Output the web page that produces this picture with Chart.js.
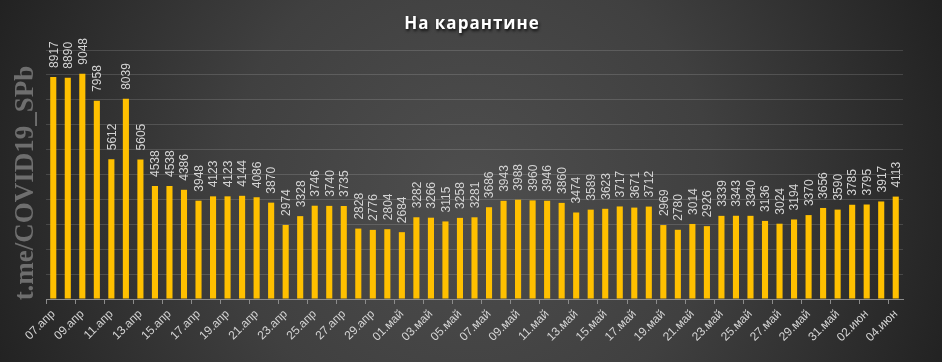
<!DOCTYPE html>
<html>
<head>
<meta charset="utf-8">
<script src="https://cdn.jsdelivr.net/npm/chart.js@4"></script>
<style>
  html, body { margin: 0; padding: 0; background: #2a2a2a; }
  #wrap { width: 942px; height: 362px; }
</style>
</head>
<body>
<div id="wrap"><canvas id="quarantineChart" width="942" height="362"></canvas></div>
<script>
const dates = [
    '07.апр', '08.апр', '09.апр', '10.апр', '11.апр', '12.апр', '13.апр', '14.апр', '15.апр', '16.апр',
    '17.апр', '18.апр', '19.апр', '20.апр', '21.апр', '22.апр', '23.апр', '24.апр', '25.апр', '26.апр',
    '27.апр', '28.апр', '29.апр', '30.апр', '01.май', '02.май', '03.май', '04.май', '05.май', '06.май',
    '07.май', '08.май', '09.май', '10.май', '11.май', '12.май', '13.май', '14.май', '15.май', '16.май',
    '17.май', '18.май', '19.май', '20.май', '21.май', '22.май', '23.май', '24.май', '25.май', '26.май',
    '27.май', '28.май', '29.май', '30.май', '31.май', '01.июн', '02.июн', '03.июн', '04.июн'
];
const quarantined = [
    8917, 8890, 9048, 7958, 5612, 8039, 5605, 4538, 4538, 4386,
    3948, 4123, 4123, 4144, 4086, 3870, 2974, 3328, 3746, 3740,
    3735, 2828, 2776, 2804, 2684, 3282, 3266, 3115, 3258, 3281,
    3686, 3943, 3988, 3960, 3946, 3860, 3474, 3589, 3623, 3717,
    3671, 3712, 2969, 2780, 3014, 2926, 3339, 3343, 3340, 3136,
    3024, 3194, 3370, 3656, 3590, 3785, 3795, 3917, 4113
];
const chartTitle = 'На карантине';
const watermark = 't.me/COVID19_SPb';

// background, watermark, title and value labels
const decor = {
    id: 'decor',
    beforeDraw(chart) {
        const ctx = chart.ctx;
        const w = chart.width, h = chart.height;
        ctx.save();
        const g = ctx.createRadialGradient(470, 190, 0, 470, 190, 540);
        g.addColorStop(0, '#4e4e4e');
        g.addColorStop(0.45, '#404040');
        g.addColorStop(1, '#1e1e1e');
        ctx.fillStyle = g;
        ctx.fillRect(0, 0, w, h);

        ctx.translate(33, 183);
        ctx.rotate(-Math.PI / 2);
        ctx.font = 'bold 27px "Liberation Serif"';
        ctx.fillStyle = '#6e6e6e';
        ctx.textAlign = 'center';
        ctx.textBaseline = 'alphabetic';
        ctx.fillText(watermark, 0, 0);
        ctx.restore();
    },
    afterDatasetsDraw(chart) {
        const ctx = chart.ctx;
        const meta = chart.getDatasetMeta(0);
        ctx.save();
        ctx.font = '12px "Liberation Sans"';
        ctx.fillStyle = '#d4d4d4';
        ctx.textAlign = 'left';
        ctx.textBaseline = 'middle';
        meta.data.forEach((bar, i) => {
            ctx.save();
            ctx.translate(bar.x + 1, bar.y - 9);
            ctx.rotate(-Math.PI / 2);
            ctx.fillText(String(quarantined[i]), 0, 0);
            ctx.restore();
        });

        ctx.font = 'bold 17px "Open Sans"';
        ctx.letterSpacing = '1px';
        ctx.textAlign = 'center';
        ctx.fillStyle = '#ffffff';
        ctx.shadowColor = 'rgba(0,0,0,0.8)';
        ctx.shadowBlur = 3;
        ctx.shadowOffsetX = 1;
        ctx.shadowOffsetY = 2;
        ctx.fillText(chartTitle, 472, 24);
        ctx.restore();
    }
};

const ctx = document.getElementById('quarantineChart').getContext('2d');
const chart = new Chart(ctx, {
    type: 'bar',
    data: {
        labels: dates,
        datasets: [{
            label: chartTitle,
            data: quarantined,
            backgroundColor: '#ffc000',
            borderWidth: 0,
            categoryPercentage: 1,
            barPercentage: 0.42
        }]
    },
    options: {
        responsive: false,
        animation: false,
        layout: { padding: { left: 46, right: 39, top: 50, bottom: 0 } },
        plugins: {
            legend: { display: false },
            title: { display: false },
            tooltip: { enabled: false }
        },
        scales: {
            x: {
                afterFit: s => { s.height = 63; },
                border: { display: true, color: '#8c8c8c', width: 1 },
                grid: {
                    offset: true,
                    drawOnChartArea: false,
                    tickLength: 5,
                    color: c => (c.index % 2 === 0 ? '#8c8c8c' : 'rgba(0,0,0,0)')
                },
                ticks: {
                    autoSkip: false,
                    maxRotation: 45,
                    minRotation: 45,
                    color: '#d4d4d4',
                    font: { family: 'Liberation Sans', size: 12 },
                    callback: function (val, i) { return i % 2 === 0 ? this.getLabelForValue(val) : ''; }
                }
            },
            y: {
                min: 0,
                max: 10000,
                afterFit: s => { s.width = 0; },
                border: { display: false },
                grid: { color: 'rgba(255,255,255,0.14)', drawTicks: false },
                ticks: { display: false, stepSize: 1000 }
            }
        }
    },
    plugins: [decor]
});
</script>
</body>
</html>
